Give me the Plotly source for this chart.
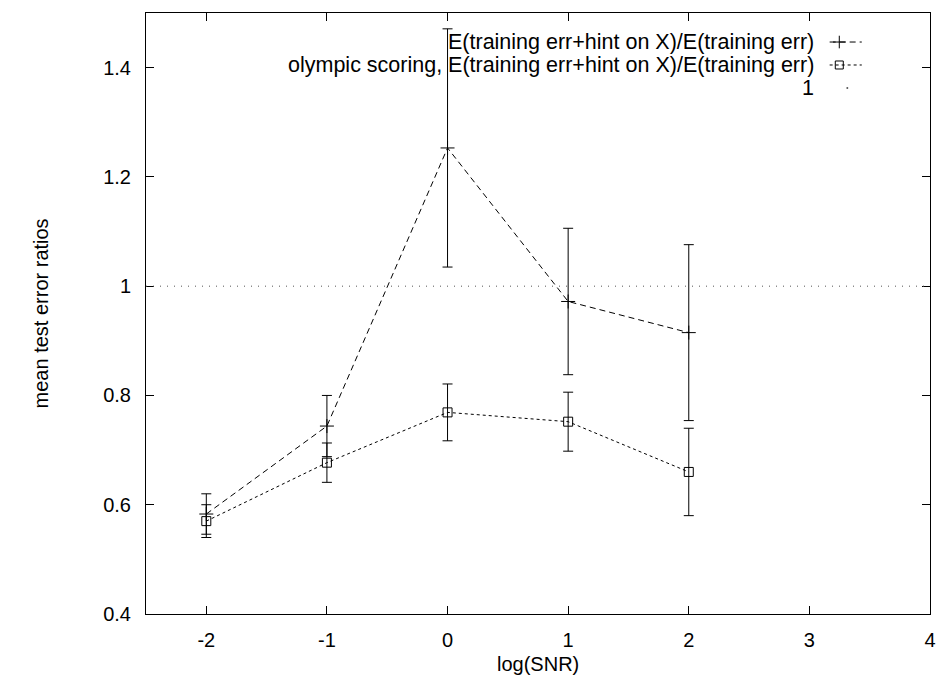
import plotly.graph_objects as go

# log(SNR) settings at which both estimators were evaluated
log_snr = [-2, -1, 0, 1, 2]

# E(training err + hint on X) / E(training err): mean and half-width of error bar
hint_ratio = [0.583, 0.744, 1.253, 0.972, 0.915]
hint_err = [0.037, 0.056, 0.218, 0.134, 0.161]

# same ratio under olympic scoring
olympic_ratio = [0.570, 0.677, 0.769, 0.752, 0.660]
olympic_err = [0.030, 0.036, 0.052, 0.054, 0.080]

reference_level = 1

x_ticks = [-2, -1, 0, 1, 2, 3, 4]
x_tick_text = ["-2", "-1", "0", "1", "2", "3", "4"]
y_ticks = [0.4, 0.6, 0.8, 1.0, 1.2, 1.4]
y_tick_text = ["0.4", "0.6", "0.8", "1", "1.2", "1.4"]

legend_labels = [
    "E(training err+hint on X)/E(training err)",
    "olympic scoring, E(training err+hint on X)/E(training err)",
    "1",
]

FONT = "Liberation Sans, Arial, Helvetica, sans-serif"
BLACK = "black"
DASH_HINT = "6px,4px"
DASH_OLY = "3px,3px"
DASH_ONE = "1px,6px"

fig = go.Figure()

fig.add_trace(go.Scatter(
    x=log_snr, y=hint_ratio, mode="lines+markers",
    line=dict(color=BLACK, width=1, dash=DASH_HINT),
    marker=dict(symbol="cross-thin", size=10, line=dict(color=BLACK, width=1)),
    error_y=dict(type="data", array=hint_err, color=BLACK, thickness=1, width=5),
    showlegend=False,
))
fig.add_trace(go.Scatter(
    x=log_snr, y=olympic_ratio, mode="lines+markers",
    line=dict(color=BLACK, width=1, dash=DASH_OLY),
    marker=dict(symbol="square-open", size=9, color=BLACK, line=dict(color=BLACK, width=1)),
    error_y=dict(type="data", array=olympic_err, color=BLACK, thickness=1, width=5),
    showlegend=False,
))
fig.add_hline(y=reference_level, line=dict(color="#555555", width=1, dash=DASH_ONE))

# key in the top-right corner: text right-aligned, line sample to its right
rows_y = [0.9517, 0.9135, 0.8752]
sample_x0, sample_x1 = 0.872, 0.913
styles = [
    dict(dash=DASH_HINT, symbol="cross-thin", size=9),
    dict(dash=DASH_OLY, symbol="square-open", size=8),
    None,
]
for label, ry, st in zip(legend_labels, rows_y, styles):
    fig.add_annotation(
        x=0.853, y=ry, xref="paper", yref="paper", text=label, showarrow=False,
        xanchor="right", yanchor="middle", borderpad=0,
        font=dict(family=FONT, size=21.5, color=BLACK),
    )
    if st is None:
        # the dotted reference line shows as a single faint dot in the key
        fig.add_trace(go.Scatter(
            x=[sample_x0 + (sample_x1 - sample_x0) * 0.55], y=[ry], xaxis="x2", yaxis="y2",
            mode="markers", marker=dict(symbol="circle", size=2, color="#555555"),
            showlegend=False, hoverinfo="skip",
        ))
        continue
    fig.add_trace(go.Scatter(
        x=[sample_x0, sample_x1], y=[ry, ry], xaxis="x2", yaxis="y2",
        mode="lines", line=dict(color=BLACK, width=1, dash=st["dash"]),
        showlegend=False, hoverinfo="skip",
    ))
    fig.add_trace(go.Scatter(
        x=[sample_x0 + (sample_x1 - sample_x0) * 0.3], y=[ry], xaxis="x2", yaxis="y2",
        mode="markers",
        marker=dict(symbol=st["symbol"], size=st["size"], color=BLACK,
                    line=dict(color=BLACK, width=1)),
        showlegend=False, hoverinfo="skip",
    ))

axis_common = dict(
    showline=True, linecolor=BLACK, linewidth=1, mirror="ticks",
    ticks="inside", ticklen=8, tickcolor=BLACK, tickwidth=1,
    showgrid=False, zeroline=False,
    tickfont=dict(family=FONT, size=20, color=BLACK),
)

fig.update_layout(
    width=945, height=680,
    margin=dict(l=146, r=9, t=13, b=66),
    paper_bgcolor="white", plot_bgcolor="white",
    xaxis=dict(range=[-2.5, 4], tickvals=x_ticks, ticktext=x_tick_text,
               ticklabelstandoff=8, **axis_common),
    yaxis=dict(range=[0.4, 1.5], tickvals=y_ticks, ticktext=y_tick_text,
               ticklabelstandoff=10, **axis_common),
    xaxis2=dict(range=[0, 1], overlaying="x", visible=False),
    yaxis2=dict(range=[0, 1], overlaying="y", visible=False),
    showlegend=False,
)

fig.add_annotation(
    x=0.5, y=-0.0835, xref="paper", yref="paper", xanchor="center", yanchor="middle",
    text="log(SNR)", showarrow=False, font=dict(family=FONT, size=20, color=BLACK),
)
fig.add_annotation(
    x=-0.134, y=0.5, xref="paper", yref="paper", xanchor="center", yanchor="middle",
    textangle=-90, text="mean test error ratios", showarrow=False,
    font=dict(family=FONT, size=20, color=BLACK),
)

fig.write_html("out.html")
